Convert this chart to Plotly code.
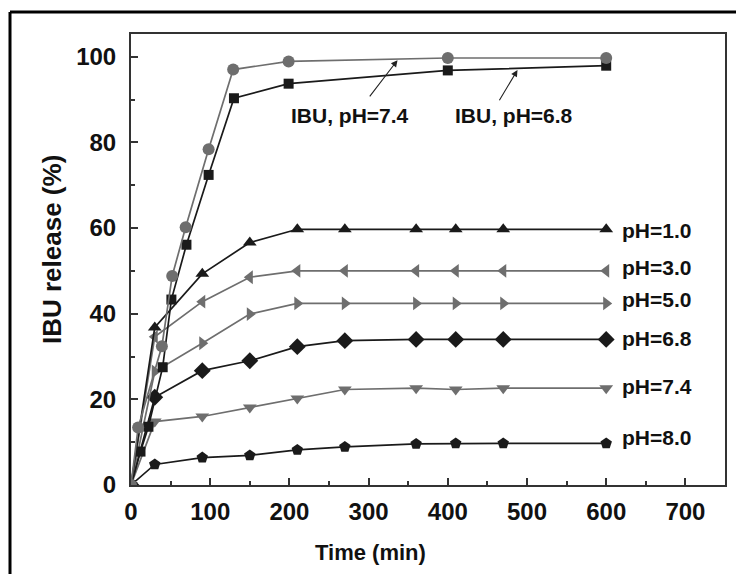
import plotly.graph_objects as go

# ---- data ----
t_ph = [0, 30, 90, 150, 210, 270, 360, 410, 470, 600]
ph10 = [0, 36.8, 49.3, 56.6, 59.7, 59.7, 59.7, 59.7, 59.7, 59.7]
ph30 = [0, 34.6, 42.8, 48.5, 50.0, 50.0, 50.0, 50.0, 50.0, 50.0]
ph50 = [0, 26.5, 33.1, 39.9, 42.4, 42.4, 42.4, 42.4, 42.4, 42.4]
ph68 = [0, 20.5, 26.7, 29.0, 32.3, 33.7, 34.0, 34.0, 34.0, 34.0]
ph74 = [0, 14.8, 16.0, 18.1, 20.2, 22.3, 22.6, 22.3, 22.6, 22.6]
ph80 = [0, 4.8, 6.4, 6.9, 8.2, 8.9, 9.6, 9.7, 9.7, 9.7]

t_ibu74 = [0, 9, 39, 52, 69, 98, 129, 199, 400, 600]
ibu74 = [0, 13.4, 32.4, 48.8, 60.2, 78.4, 97.0, 98.9, 99.7, 99.7]
t_ibu68 = [0, 12, 22, 40, 51, 70, 98, 130, 199, 400, 600]
ibu68 = [0, 7.8, 13.6, 27.5, 43.3, 56.1, 72.4, 90.3, 93.7, 96.8, 97.9]

ph_labels = ["pH=1.0", "pH=3.0", "pH=5.0", "pH=6.8", "pH=7.4", "pH=8.0"]
ph_label_y = [59.4, 50.7, 43.4, 34.3, 22.9, 11.0]

x_ticks = [0, 100, 200, 300, 400, 500, 600, 700]
y_ticks = [0, 20, 40, 60, 80, 100]

BLACK = "#1a1a1a"
GRAY = "#6e6e6e"
FONT = "Liberation Sans, Arial, sans-serif"

fig = go.Figure()

def add(x, y, color, symbol, size):
    fig.add_trace(go.Scatter(
        x=x, y=y, mode="lines+markers",
        line=dict(color=color, width=1.7),
        marker=dict(symbol=symbol, size=size, color=color,
                    line=dict(width=0)),
        showlegend=False, hoverinfo="x+y"))

add(t_ph, ph80, BLACK, "pentagon", 12)
add(t_ph, ph74, GRAY, "triangle-down", 12)
add(t_ph, ph68, BLACK, "diamond", 13)
add(t_ph, ph50, GRAY, "triangle-right", 12)
add(t_ph, ph30, GRAY, "triangle-left", 12)
add(t_ph, ph10, BLACK, "triangle-up", 12)
add(t_ibu68, ibu68, BLACK, "square", 10)
add(t_ibu74, ibu74, GRAY, "circle", 12)

annotations = []
for lab, yy in zip(ph_labels, ph_label_y):
    annotations.append(dict(x=618, y=yy, xref="x", yref="y", text="<b>%s</b>" % lab,
                            showarrow=False, xanchor="left", yanchor="middle",
                            font=dict(family=FONT, size=21, color="#111")))

annotations.append(dict(x=277, y=86.3, xref="x", yref="y", text="<b>IBU, pH=7.4</b>",
                        showarrow=False, xanchor="center", yanchor="middle",
                        font=dict(family=FONT, size=21, color="#111")))
annotations.append(dict(x=484, y=86.3, xref="x", yref="y", text="<b>IBU, pH=6.8</b>",
                        showarrow=False, xanchor="center", yanchor="middle",
                        font=dict(family=FONT, size=21, color="#111")))
# arrows
annotations.append(dict(x=336.5, y=99.2, ax=300, ay=90.4, xref="x", yref="y",
                        axref="x", ayref="y", text="", showarrow=True,
                        arrowhead=2, arrowsize=1.2, arrowwidth=1.1, arrowcolor="#222"))
annotations.append(dict(x=488, y=96.9, ax=464, ay=89.5, xref="x", yref="y",
                        axref="x", ayref="y", text="", showarrow=True,
                        arrowhead=2, arrowsize=1.2, arrowwidth=1.1, arrowcolor="#222"))
# axis titles
annotations.append(dict(x=(370 - 131) / 594, y=(485 - 552) / 451, xref="paper", yref="paper",
                        text="<b>Time (min)</b>", showarrow=False,
                        xanchor="center", yanchor="middle",
                        font=dict(family=FONT, size=22, color="#111")))
annotations.append(dict(x=(52 - 131) / 594, y=(485 - 250) / 451, xref="paper", yref="paper",
                        text="<b>IBU release (%)</b>", showarrow=False, textangle=-90,
                        xanchor="center", yanchor="middle",
                        font=dict(family=FONT, size=26, color="#111")))

shapes = [
    dict(type="line", xref="paper", yref="paper",
         x0=(10 - 131) / 594, x1=(740 - 131) / 594,
         y0=(485 - 12) / 451, y1=(485 - 12) / 451,
         line=dict(color="#000", width=3)),
    dict(type="line", xref="paper", yref="paper",
         x0=(10 - 131) / 594, x1=(10 - 131) / 594,
         y0=(485 - 12) / 451, y1=(485 - 580) / 451,
         line=dict(color="#000", width=3)),
]

fig.update_layout(
    width=736, height=574,
    margin=dict(l=131, r=11, t=34, b=89, autoexpand=False),
    paper_bgcolor="white", plot_bgcolor="white",
    annotations=annotations, shapes=shapes,
    font=dict(family=FONT, color="#111"),
    xaxis=dict(range=[0, 750], tickmode="array", tickvals=x_ticks,
               ticktext=["<b>%d</b>" % v for v in x_ticks],
               ticks="inside", ticklen=7, tickwidth=1.5, tickcolor="#333",
               minor=dict(dtick=50, tick0=0, ticks="inside", ticklen=4, tickwidth=1.5, tickcolor="#333"),
               showline=True, linecolor="#333", linewidth=2, mirror=True,
               showgrid=False, zeroline=False,
               tickfont=dict(family=FONT, size=24, color="#111"), ticklabelstandoff=4),
    yaxis=dict(range=[0, 105.3], tickmode="array", tickvals=y_ticks,
               ticktext=["<b>%d</b>" % v for v in y_ticks],
               ticks="inside", ticklen=7, tickwidth=1.5, tickcolor="#333",
               minor=dict(dtick=10, tick0=0, ticks="inside", ticklen=4, tickwidth=1.5, tickcolor="#333"),
               showline=True, linecolor="#333", linewidth=2, mirror=True,
               showgrid=False, zeroline=False,
               tickfont=dict(family=FONT, size=24, color="#111"), ticklabelstandoff=8),
)

fig.write_html("out.html", config={"displayModeBar": False},
               post_script="document.body.style.margin='0';document.body.style.padding='0';")
